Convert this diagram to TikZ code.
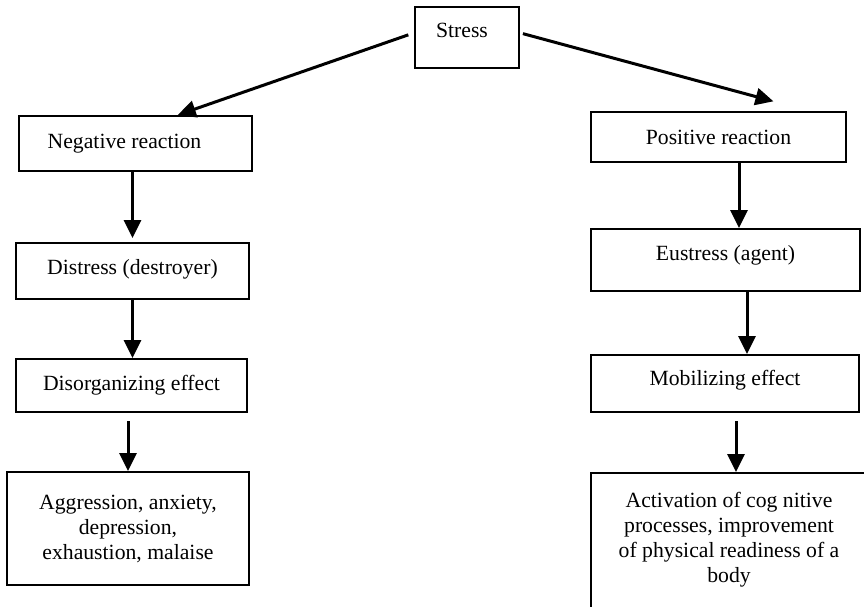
\documentclass[tikz,border=0pt]{standalone}
\usepackage{fontspec}
\setmainfont{Liberation Serif}
\usetikzlibrary{arrows.meta, calc}

\tikzset{
  box/.style={draw, line width=2pt, inner sep=0pt, align=center,
    font=\fontsize{21.7}{25}\selectfont},
  arr/.style={line width=3pt, -{Triangle[length=18pt,width=17pt]}}
}

\begin{document}
\begin{tikzpicture}[x=1pt, y=-1pt]
  \useasboundingbox (0,0) rectangle (864,606);
  % Top
  \node[box, minimum width=104pt, minimum height=61pt, text depth=15pt] (stress) at (467,37.5) {Stress\hspace*{10pt}};

  % Negative branch
  \node[box, minimum width=233pt, minimum height=55pt] (neg) at (135.5,143.5) {Negative reaction\hspace*{22pt}};
  \node[box, minimum width=233pt, minimum height=56pt, text depth=9pt] (dis) at (132.5,271) {Distress (destroyer)};
  \node[box, minimum width=231pt, minimum height=53pt] (dorg) at (131.5,385.5) {Disorganizing effect};
  \node[box, minimum width=242pt, minimum height=113pt] (agg) at (128,528.5) {Aggression, anxiety,\\ depression,\\ exhaustion, malaise};

  % Positive branch
  \node[box, minimum width=255pt, minimum height=50pt] (pos) at (718.5,137) {Positive reaction};
  \node[box, minimum width=269pt, minimum height=62pt, text depth=15pt] (eus) at (725.5,260) {Eustress (agent)};
  \node[box, minimum width=268pt, minimum height=57pt, text depth=12pt] (mob) at (725,383.5) {Mobilizing effect};
  \node[box, minimum width=276pt, minimum height=154pt] (act) at (729,550) {Activation of cog nitive\\ processes, improvement\\ of physical readiness of a\\ body\\ \mbox{}};

  % Arrows from the top
  \draw[arr, shorten <=6pt] (stress.175) -- (neg.34.5);
  \draw[arr, shorten <=3pt, shorten >=37pt] (stress.5) -- (pos.16);

  % Left column
  \draw[arr, shorten >=4pt] (neg.south -| dis.north) -- (dis.north);
  \draw[arr] (dis.south) -- (dis.south |- dorg.north);
  \draw[arr, shorten <=8pt] (dorg.south -| agg.north) -- (agg.north);

  % Right column
  \coordinate (p1) at ($(pos.south)+(20.5,0)$);
  \coordinate (p2) at ($(eus.south)+(21.5,0)$);
  \coordinate (p3) at ($(mob.south)+(11,0)$);
  \draw[arr] (p1) -- (p1 |- eus.north);
  \draw[arr] (p2) -- (p2 |- mob.north);
  \draw[arr, shorten <=8pt] (p3) -- (p3 |- act.north);
\end{tikzpicture}
\end{document}
